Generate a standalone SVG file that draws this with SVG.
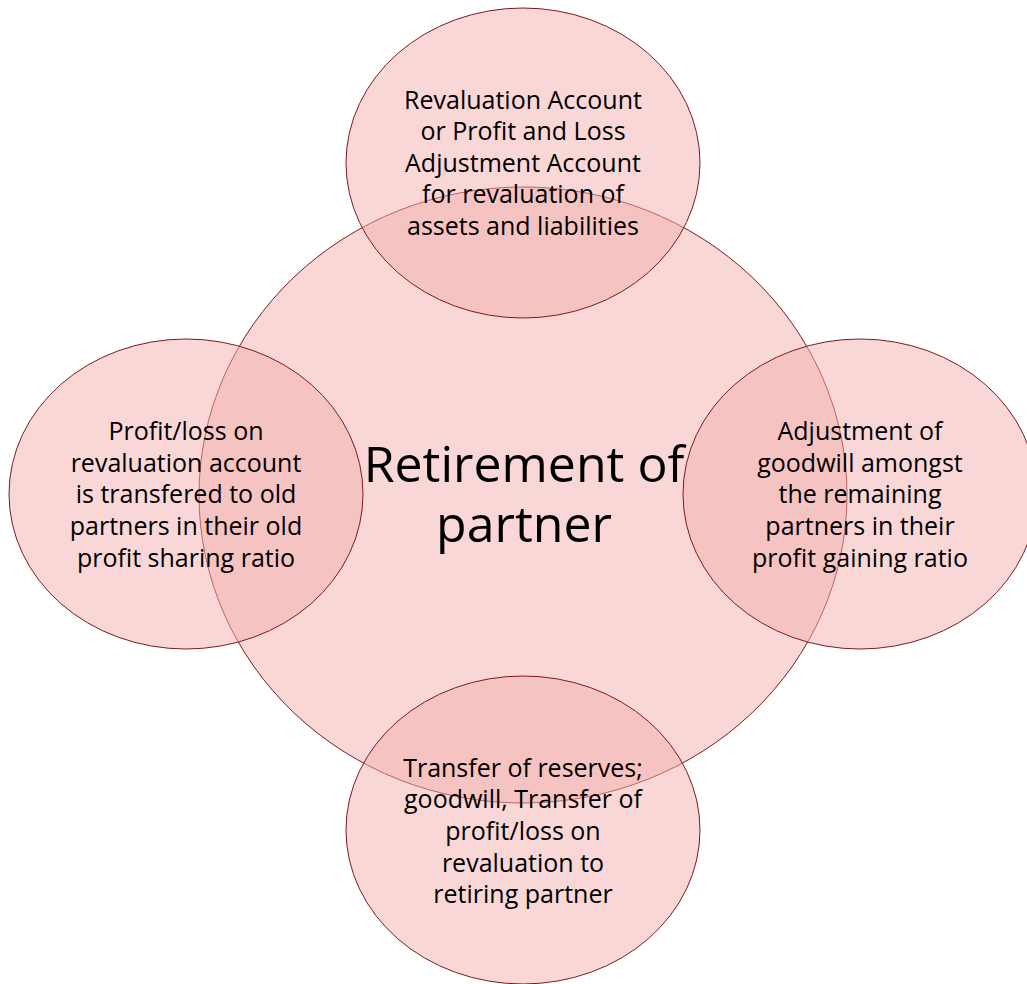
<svg xmlns="http://www.w3.org/2000/svg" width="1027" height="984" viewBox="0 0 1027 984">
<style>
.shape{fill:#F4B0B0;fill-opacity:0.5;stroke:#7E1A1A;stroke-width:1}
.t{font-family:"Open Sans","Noto Sans","Liberation Sans",sans-serif;font-size:25px;fill:#000;text-anchor:middle}
.tc{font-family:"Open Sans","Noto Sans","Liberation Sans",sans-serif;font-size:50px;fill:#000;text-anchor:middle}
</style>
<rect width="1027" height="984" fill="#fff"/>
<g id="center">
<ellipse class="shape" cx="523" cy="495" rx="324" ry="308"/>
</g>
<g id="top">
<ellipse class="shape" cx="523" cy="163" rx="177" ry="155"/>
</g>
<g id="right">
<ellipse class="shape" cx="860" cy="494" rx="177" ry="155"/>
</g>
<g id="bottom">
<ellipse class="shape" cx="523" cy="830" rx="177" ry="154"/>
</g>
<g id="left">
<ellipse class="shape" cx="186" cy="494" rx="177" ry="155"/>
</g>
<g id="labels">
<text class="tc"><tspan x="524" y="482">Retirement of</tspan><tspan x="524" y="542">partner</tspan></text>
<text class="t" x="523" y="109">Revaluation Account</text>
<text class="t" x="523" y="140">or Profit and Loss</text>
<text class="t" x="523" y="172">Adjustment Account</text>
<text class="t" x="523" y="203">for revaluation of</text>
<text class="t" x="523" y="235">assets and liabilities</text>
<text class="t" x="186" y="440">Profit/loss on</text>
<text class="t" x="186" y="472">revaluation account</text>
<text class="t" x="186" y="503">is transfered to old</text>
<text class="t" x="186" y="535">partners in their old</text>
<text class="t" x="186" y="567">profit sharing ratio</text>
<text class="t" x="860" y="440">Adjustment of</text>
<text class="t" x="860" y="472">goodwill amongst</text>
<text class="t" x="860" y="503">the remaining</text>
<text class="t" x="860" y="535">partners in their</text>
<text class="t" x="860" y="567">profit gaining ratio</text>
<text class="t" x="523" y="777">Transfer of reserves;</text>
<text class="t" x="523" y="808">goodwill, Transfer of</text>
<text class="t" x="523" y="840">profit/loss on</text>
<text class="t" x="523" y="872">revaluation to</text>
<text class="t" x="523" y="903">retiring partner</text>
</g>
<g id="connectors"/>
</svg>
